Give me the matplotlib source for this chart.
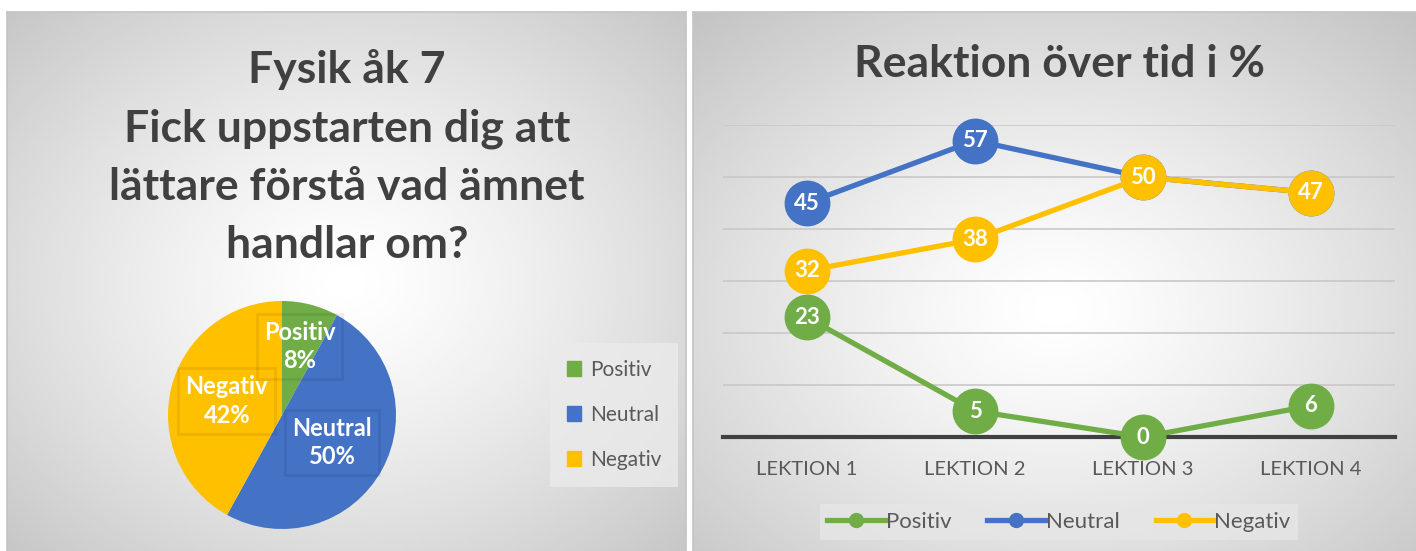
import numpy as np, matplotlib
matplotlib.use("Agg"); import matplotlib.pyplot as plt
from matplotlib.lines import Line2D
from matplotlib.patches import Patch

# pie: Fysik åk 7
pie_labels = ["Positiv", "Neutral", "Negativ"]
pie_values = [8, 50, 42]
# line chart: reaction over time in %
lessons = ["LEKTION 1", "LEKTION 2", "LEKTION 3", "LEKTION 4"]
positiv = [23, 5, 0, 6]
neutral = [45, 57, 50, 47]
negativ = [32, 38, 50, 47]

GREEN, BLUE, YELLOW = "#70AD47", "#4472C4", "#FFC000"
TXT, TITLE = "#595959", "#404040"
plt.rcParams["font.family"] = ["Lato", "DejaVu Sans"]

W, H = 1416, 551
def rect(x0, y0, x1, y1):
    return [x0 / W, 1 - y1 / H, (x1 - x0) / W, (y1 - y0) / H]

fig = plt.figure(figsize=(W / 100, H / 100), dpi=100)

def panel(x0, y0, x1, y1, cx, cy):
    ax = fig.add_axes(rect(x0, y0, x1, y1))
    yy, xx = np.mgrid[0:1:200j, 0:1:300j]
    r = np.hypot((xx - cx) / 0.75, (yy - cy) / 0.75)
    v = 1 - 0.24 * np.clip(r, 0, 1) ** 1.3
    ax.imshow(v, cmap="gray", vmin=0, vmax=1, extent=[0, 1, 0, 1],
              aspect="auto", origin="lower", interpolation="bilinear")
    ax.set_xticks([]); ax.set_yticks([])
    for s in ax.spines.values():
        s.set_color("#c4c4c4"); s.set_linewidth(1.2)
    return ax

panel(7, 12, 686, 553, 0.5, 0.5)
panel(693, 12, 1418, 553, 0.5, 0.45)

# ---- left: pie ----
fig.text(347 / W, 1 - 157 / H,
         "Fysik åk 7\nFick uppstarten dig att\nlättare förstå vad ämnet\nhandlar om?",
         ha="center", va="center", fontsize=32, fontweight="bold", color=TITLE,
         linespacing=1.55)

axp = fig.add_axes(rect(168, 301, 396, 529))
axp.patch.set_alpha(0)
wedges, _ = axp.pie(pie_values, colors=[GREEN, BLUE, YELLOW], startangle=90,
                    counterclock=False, radius=1, wedgeprops=dict(linewidth=0))
axp.set_xlim(-1, 1); axp.set_ylim(-1, 1)
# data labels along wedge mid angles
cum = np.cumsum([0] + pie_values[:-1])
lab_r = [0.62, 0.5, 0.5]
for lab, v, c, rr in zip(pie_labels, pie_values, cum, lab_r):
    ang = np.deg2rad(90 - (c + v / 2) / 100 * 360)
    axp.text(rr * np.cos(ang), rr * np.sin(ang), f"{lab}\n{v}%", ha="center", va="center",
             fontsize=17, fontweight="bold", color="white", linespacing=1.3,
             bbox=dict(boxstyle="square,pad=0.3", facecolor="none",
                       edgecolor=(0, 0, 0, 0.07), linewidth=2))

axp.legend(handles=[Patch(color=c) for c in [GREEN, BLUE, YELLOW]], labels=pie_labels,
           loc="center", bbox_to_anchor=(614 / W, 1 - 415 / H), bbox_transform=fig.transFigure,
           fontsize=15, labelcolor=TXT, frameon=True, fancybox=False, edgecolor="none",
           facecolor="#ebebeb", framealpha=0.8, labelspacing=1.2, handlelength=0.7,
           handleheight=0.7, handletextpad=0.4, borderpad=0.8)

# ---- right: lines ----
fig.text(1060 / W, 1 - 64 / H, "Reaktion över tid i %", ha="center", va="center",
         fontsize=32, fontweight="bold", color=TITLE)

ax = fig.add_axes(rect(723, 125, 1395, 437))
ax.patch.set_alpha(0)
x = np.arange(len(lessons))
for k, (vals, col, name) in enumerate([(positiv, GREEN, "Positiv"),
                                       (neutral, BLUE, "Neutral"),
                                       (negativ, YELLOW, "Negativ")]):
    z = 3 + k
    ax.plot(x, vals, "-o", color=col, lw=3.8, ms=32, zorder=z, clip_on=False, label=name)
    for xi, v in zip(x, vals):
        ax.text(xi, v, str(v), ha="center", va="center", fontsize=16, fontweight="bold",
                color="white", zorder=z + 0.5)

ax.set_xlim(-0.5, 3.5); ax.set_ylim(0, 60)
ax.set_yticks(np.arange(0, 70, 10))
ax.yaxis.grid(True, color="#c8c8c8", lw=1.2)
ax.set_axisbelow(True)
ax.tick_params(axis="y", length=0, labelleft=False)
ax.set_xticks(x, lessons)
ax.tick_params(axis="x", length=0, pad=17, labelsize=14.5, labelcolor=TXT)
for s in ["top", "right", "left"]:
    ax.spines[s].set_visible(False)
ax.spines["bottom"].set_color("#404040"); ax.spines["bottom"].set_linewidth(3)
ax.spines["bottom"].set_zorder(2.5)

handles = [Line2D([], [], color=c, lw=3.8, marker="o", ms=10) for c in [GREEN, BLUE, YELLOW]]
fig.legend(handles, ["Positiv", "Neutral", "Negativ"], loc="center", ncol=3,
           bbox_to_anchor=(1059 / W, 1 - 522 / H), fontsize=16, labelcolor=TXT,
           frameon=True, fancybox=False, edgecolor="none", facecolor="#e6e6e6",
           framealpha=0.8, handlelength=2.6, handletextpad=0.05, columnspacing=1.6,
           borderpad=0.35, borderaxespad=0)

plt.savefig("out.png", dpi=100)
